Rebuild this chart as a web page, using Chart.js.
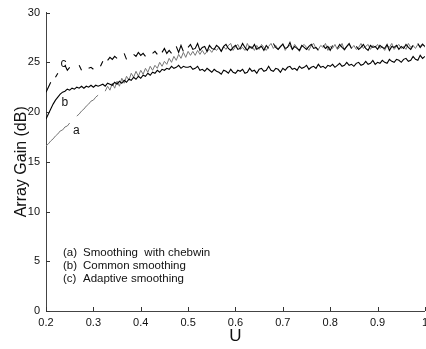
<!DOCTYPE html>
<html>
<head>
<meta charset="utf-8">
<script src="https://cdn.jsdelivr.net/npm/chart.js@4"></script>
<style>
  html, body { margin: 0; padding: 0; background: #fff; overflow: hidden; }
  #wrap { position: relative; width: 433px; height: 349px; }
</style>
</head>
<body>
<div id="wrap"><canvas id="chart"></canvas></div>
<script>
// U grid, 0.2 .. 1.0 in steps of 0.005
const U = [
  0.2, 0.205, 0.21, 0.215, 0.22, 0.225, 0.23, 0.235, 0.24, 0.245,
  0.25, 0.255, 0.26, 0.265, 0.27, 0.275, 0.28, 0.285, 0.29, 0.295,
  0.3, 0.305, 0.31, 0.315, 0.32, 0.325, 0.33, 0.335, 0.34, 0.345,
  0.35, 0.355, 0.36, 0.365, 0.37, 0.375, 0.38, 0.385, 0.39, 0.395,
  0.4, 0.405, 0.41, 0.415, 0.42, 0.425, 0.43, 0.435, 0.44, 0.445,
  0.45, 0.455, 0.46, 0.465, 0.47, 0.475, 0.48, 0.485, 0.49, 0.495,
  0.5, 0.505, 0.51, 0.515, 0.52, 0.525, 0.53, 0.535, 0.54, 0.545,
  0.55, 0.555, 0.56, 0.565, 0.57, 0.575, 0.58, 0.585, 0.59, 0.595,
  0.6, 0.605, 0.61, 0.615, 0.62, 0.625, 0.63, 0.635, 0.64, 0.645,
  0.65, 0.655, 0.66, 0.665, 0.67, 0.675, 0.68, 0.685, 0.69, 0.695,
  0.7, 0.705, 0.71, 0.715, 0.72, 0.725, 0.73, 0.735, 0.74, 0.745,
  0.75, 0.755, 0.76, 0.765, 0.77, 0.775, 0.78, 0.785, 0.79, 0.795,
  0.8, 0.805, 0.81, 0.815, 0.82, 0.825, 0.83, 0.835, 0.84, 0.845,
  0.85, 0.855, 0.86, 0.865, 0.87, 0.875, 0.88, 0.885, 0.89, 0.895,
  0.9, 0.905, 0.91, 0.915, 0.92, 0.925, 0.93, 0.935, 0.94, 0.945,
  0.95, 0.955, 0.96, 0.965, 0.97, 0.975, 0.98, 0.985, 0.99, 0.995,
  1.0
];

// (a) smoothing with chebwin - gray
const gainA = [
  16.6, 16.8, 17.1, 17.3, 17.6, 17.8, 18.1, 18.2, 18.5, 18.6,
  18.9, null, null, 19.6, 19.8, 20.1, 20.3, 20.6, 20.8, 21.1,
  21.2, 21.5, 21.7, null, null, 22.1, 22.6, 22.2, 22.9, 22.4,
  23.1, 22.6, 23.4, 22.9, 23.6, 23.2, 23.9, 23.5, 24.1, 23.6,
  24.2, 23.8, 24.4, 24.0, 24.6, 24.2, 24.7, 24.4, 25.0, 24.6,
  25.1, 24.8, 25.4, 25.0, 25.6, 25.2, 25.8, 25.4, 26.0, 25.5,
  26.1, 25.7, 26.1, 25.7, 26.2, 25.8, 26.2, 25.8, 26.1, 26.3,
  26.0, 26.4, 26.2, 26.5, 26.1, 26.6, 26.3, 26.7, 26.9, 26.2,
  26.6, 26.8, 26.3, 26.5, 26.2, 26.9, 26.4, 26.6, 26.2, 26.7,
  26.3, 26.8, 26.5, 26.2, 26.6, 26.9, 26.4, 26.7, 26.3, 26.5,
  26.9, 26.2, 26.6, 26.7, 26.3, 26.8, 26.5, 26.1, 26.6, 26.8,
  26.5, 26.2, 26.7, 26.9, 26.4, 26.3, 26.7, 26.5, 26.9, 26.2,
  26.6, 26.4, 26.8, 26.3, 26.5, 26.9, 26.2, 26.6, 26.8, 26.4,
  26.7, 26.3, 26.5, 26.9, 26.4, 26.6, 26.8, 26.3, 26.7, 26.5,
  26.8, 26.4, 26.6, 26.2, 26.7, 26.5, 26.9, 26.3, 26.6, 26.8,
  26.4, 26.6, 26.3, 26.9, 26.5, 26.7, 26.4, 26.8, 26.6, 26.9,
  26.5
];

// (b) common smoothing - black solid
const gainB = [
  19.3, 19.8, 20.3, 20.8, 21.2, 21.5, 21.8, 22.0, 22.1, 22.3,
  22.2, 22.4, 22.3, 22.5, 22.4, 22.6, 22.4, 22.6, 22.5, 22.7,
  22.5, 22.7, 22.6, 22.7, 22.8, 22.6, 22.9, 22.8, 22.7, 23.0,
  22.8, 23.1, 22.9, 23.2, 23.0, 23.3, 23.2, 23.5, 23.3, 23.6,
  23.4, 23.7, 23.6, 23.9, 23.7, 24.0, 23.9, 24.2, 24.0, 24.3,
  24.2, 24.4, 24.3, 24.6, 24.4, 24.5, 24.7, 24.4, 24.6, 24.5,
  24.5, 24.6, 24.3, 24.4, 24.6, 24.2, 24.3, 24.1, 24.4, 24.2,
  24.0, 24.3, 24.1, 24.0, 23.8, 24.2, 24.1, 23.9, 24.3, 24.0,
  23.9, 24.2, 24.1, 24.3, 23.9, 24.0, 24.4, 24.1, 24.2, 23.9,
  24.3, 24.4, 24.1, 24.2, 24.6, 24.2, 24.1, 24.4, 24.3, 24.0,
  24.4, 24.2, 24.5, 24.6, 24.3, 24.4, 24.2, 24.6, 24.4, 24.5,
  24.7, 24.3, 24.5, 24.6, 24.4, 24.8, 24.5, 24.6, 24.4, 24.7,
  24.6, 24.8, 24.5, 24.7, 24.9, 24.6, 24.7, 25.0, 24.7, 24.8,
  24.6, 24.9, 25.0, 24.7, 24.8, 25.1, 24.8, 24.9, 25.2, 24.8,
  25.0, 24.9, 25.2, 25.0, 24.9, 25.3, 25.1, 25.0, 25.3, 25.2,
  25.0, 25.3, 25.4, 25.1, 25.2, 25.6, 25.3, 25.2, 25.7, 25.4,
  25.6
];

// (c) adaptive smoothing - black, broken at the start
const gainC = [
  22.0, 22.5, 23.0, null, 23.5, 23.9, null, null, 24.7, 24.2,
  24.5, null, null, null, 24.7, 24.2, null, null, 24.4, 24.5,
  24.3, null, null, 24.6, 25.1, null, 25.2, 25.5, 25.3, 25.6,
  25.4, null, null, 25.9, 25.3, null, null, 25.8, 25.6, 26.0,
  25.7, 25.9, 25.6, null, null, 25.9, 26.1, 25.8, null, 26.0,
  26.4, 25.9, 26.2, 25.9, null, 26.6, 26.0, 26.7, 26.1, null,
  26.5, 26.8, 26.3, 26.4, 26.9, 26.2, 26.5, 26.6, 26.1, 26.7,
  26.4, 26.3, 26.7, 26.5, 26.1, 26.6, 26.8, 26.4, 26.2, 26.5,
  26.7, 26.3, 26.4, 26.9, 26.5, 26.2, 26.6, 26.4, 26.8, 26.3,
  26.5, 26.6, 26.2, 26.7, 26.4, null, 26.9, 26.5, 26.3, 26.6,
  26.8, 26.4, 26.5, 27.0, 26.3, 26.6, 26.4, 26.2, 26.7, 26.5,
  26.3, 26.6, 26.8, 26.4, 26.5, 26.2, null, 26.7, 26.4, 26.6,
  26.2, 26.7, null, 26.4, 26.8, 26.5, 26.3, 26.6, 26.9, 26.4,
  null, 26.6, 26.3, 26.5, 26.8, 26.4, 26.2, 26.7, 26.5, 26.6,
  26.3, 26.7, 26.5, 26.4, 26.8, 26.2, 26.6, 26.5, 26.7, 26.3,
  26.6, 26.4, 26.8, 26.5, 26.3, 26.7, null, 26.9, 26.5, 26.8,
  26.6
];

const legendLines = [
  ["(a)", "Smoothing  with chebwin"],
  ["(b)", "Common smoothing"],
  ["(c)", "Adaptive smoothing"]
];

const FONT = "'Liberation Sans', Arial, Helvetica, sans-serif";

function pts(ys) {
  return U.map((u, i) => ({ x: u, y: ys[i] }));
}

// inward tick marks, curve letters and the text legend
const extras = {
  id: "extras",
  afterDraw(chart) {
    const ctx = chart.ctx;
    const xs = chart.scales.x;
    const ys = chart.scales.y;
    const area = chart.chartArea;
    ctx.save();
    ctx.strokeStyle = "#333";
    ctx.lineWidth = 1;
    ctx.beginPath();
    ys.ticks.forEach(t => {
      const py = Math.round(ys.getPixelForValue(t.value)) + 0.5;
      ctx.moveTo(area.left, py);
      ctx.lineTo(area.left + 4, py);
    });
    xs.ticks.forEach(t => {
      const px = Math.round(xs.getPixelForValue(t.value)) + 0.5;
      ctx.moveTo(px, area.bottom);
      ctx.lineTo(px, area.bottom - 4);
    });
    ctx.stroke();

    ctx.fillStyle = "#111";
    ctx.font = "12px " + FONT;
    ctx.textBaseline = "middle";
    ctx.textAlign = "center";
    ctx.fillText("a", xs.getPixelForValue(0.264), ys.getPixelForValue(18.1));
    ctx.fillText("b", xs.getPixelForValue(0.24), ys.getPixelForValue(20.9));
    ctx.fillText("c", xs.getPixelForValue(0.237), ys.getPixelForValue(24.9));

    ctx.textAlign = "left";
    ctx.font = "11.5px " + FONT;
    legendLines.forEach((l, i) => {
      const y = 253 + i * 13;
      ctx.fillText(l[0], 63, y);
      ctx.fillText(l[1], 83, y);
    });
    ctx.restore();
  }
};

new Chart(document.getElementById("chart"), {
  type: "line",
  data: {
    datasets: [
      { label: "c", data: pts(gainC), borderColor: "#000", borderWidth: 1.1 },
      { label: "b", data: pts(gainB), borderColor: "#000", borderWidth: 1.1 },
      { label: "a", data: pts(gainA), borderColor: "#777", borderWidth: 1 }
    ]
  },
  options: {
    responsive: true,
    maintainAspectRatio: false,
    animation: false,
    spanGaps: false,
    elements: { point: { radius: 0 }, line: { tension: 0 } },
    layout: { padding: { top: 12, right: 6, left: 0, bottom: 0 } },
    plugins: { legend: { display: false }, tooltip: { enabled: false } },
    scales: {
      x: {
        type: "linear",
        min: 0.2,
        max: 1,
        grid: { display: false, drawTicks: false },
        border: { display: true, color: "#444", width: 1 },
        ticks: {
          stepSize: 0.1,
          padding: 5,
          color: "#111",
          font: { family: FONT, size: 11 },
          callback: v => String(Math.round(v * 10) / 10)
        },
        title: {
          display: true,
          text: "U",
          color: "#111",
          font: { family: FONT, size: 17 },
          padding: { top: 0, bottom: 2 }
        },
        afterFit: s => { s.height = 38; }
      },
      y: {
        min: 0,
        max: 30,
        grid: { display: false, drawTicks: false },
        border: { display: true, color: "#444", width: 1 },
        ticks: {
          stepSize: 5,
          padding: 6,
          color: "#111",
          font: { family: FONT, size: 11 }
        },
        title: {
          display: true,
          text: "Array Gain (dB)",
          color: "#111",
          font: { family: FONT, size: 16 },
          padding: { top: 12, bottom: 0 }
        },
        afterFit: s => { s.width = 46; }
      }
    }
  },
  plugins: [extras]
});
</script>
</body>
</html>
